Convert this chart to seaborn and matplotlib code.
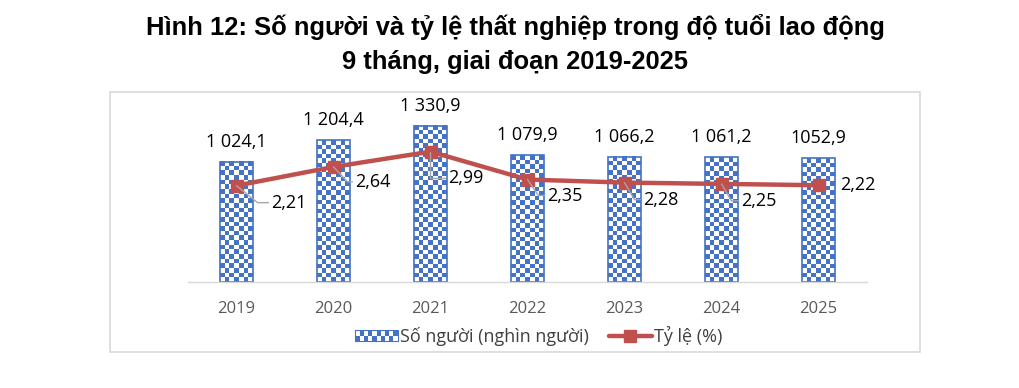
import numpy as np
import pandas as pd
import matplotlib
matplotlib.use("Agg")
import matplotlib.pyplot as plt
from matplotlib.colors import ListedColormap
from matplotlib.patches import Rectangle
from matplotlib.lines import Line2D
from matplotlib.legend_handler import HandlerBase
import seaborn as sns

# ---- data ----
years = ["2019", "2020", "2021", "2022", "2023", "2024", "2025"]
persons = [1024.1, 1204.4, 1330.9, 1079.9, 1066.2, 1061.2, 1052.9]
person_labels = ["1 024,1", "1 204,4", "1 330,9", "1 079,9", "1 066,2", "1 061,2", "1052,9"]
rates = [2.21, 2.64, 2.99, 2.35, 2.28, 2.25, 2.22]
rate_labels = ["2,21", "2,64", "2,99", "2,35", "2,28", "2,25", "2,22"]
title_lines = ["Hình 12: Số người và tỷ lệ thất nghiệp trong độ tuổi lao động",
               "9 tháng, giai đoạn 2019-2025"]
legend_labels = ["Số người (nghìn người)", "Tỷ lệ (%)"]

# label layout (pixels): label left-edge offset, label vertical offset (down), leader corner dx
rate_label_dx = [35, 22, 18, 20, 19, 20, 22]
rate_label_dy = [17, 15, 26, 16, 17, 17, 0]
leader_corner = [21, 14, 0, 11, 10, 10, None]

BLUE = "#4472C4"
RED = "#C0504D"
FONT = ["Open Sans", "DejaVu Sans"]
TFONT = ["Liberation Sans", "DejaVu Sans"]

sns.set_theme(style="white")
plt.rcParams["font.family"] = FONT

W, H = 1020, 388
fig = plt.figure(figsize=(W / 100, H / 100), dpi=100)

# chart border
fig.patches.append(Rectangle((110 / W, 1 - 352 / H), 810 / W, 260 / H,
                             transform=fig.transFigure, fill=False,
                             edgecolor="#D9D9D9", linewidth=1.2))

left, right, bottom, top = 188, 867, 282, 94
ax = fig.add_axes([left / W, 1 - bottom / H, (right - left) / W, (bottom - top) / H])

df = pd.DataFrame({"year": years, "persons": persons, "rate": rates})
sns.barplot(data=df, x="year", y="persons", ax=ax, width=0.33,
            color=BLUE, saturation=1, zorder=2)
ax.set_xlim(-0.5, 6.5)
ax.set_ylim(0, 1600)

checker_cmap = ListedColormap(["white", BLUE])
cell = 4.6
for patch in ax.patches:
    x0, y0 = patch.get_x(), patch.get_y()
    w, h = patch.get_width(), patch.get_height()
    p0 = ax.transData.transform((x0, y0))
    p1 = ax.transData.transform((x0 + w, y0 + h))
    nx = max(1, int(round(abs(p1[0] - p0[0]) / cell)))
    ny = max(1, int(round(abs(p1[1] - p0[1]) / cell)))
    yy, xx = np.indices((ny, nx))
    img = ((xx + yy) % 2).astype(float)
    ax.imshow(img, extent=(x0, x0 + w, y0, y0 + h), origin="lower",
              cmap=checker_cmap, vmin=0, vmax=1, aspect="auto",
              interpolation="nearest", zorder=2.1)
    patch.set_facecolor("none")
    patch.set_edgecolor(BLUE)
    patch.set_linewidth(1.2)
    patch.set_zorder(2.2)

ax.set_xlim(-0.5, 6.5)
ax.set_ylim(0, 1600)

for i, (v, lab) in enumerate(zip(persons, person_labels)):
    ax.annotate(lab, (i, v), xytext=(0, 8), textcoords="offset points",
                ha="center", va="bottom", fontsize=13, color="black")

ax2 = ax.twinx()
ax2.plot(range(len(years)), rates, color=RED, linewidth=3.2, marker="s",
         markersize=8, zorder=5)
ax2.set_ylim(0, (bottom - top) / 43.6)
ax2.set_xlim(-0.5, 6.5)

for i, (v, lab) in enumerate(zip(rates, rate_labels)):
    dx, dy, cx = rate_label_dx[i], rate_label_dy[i], leader_corner[i]
    px, py = ax2.transData.transform((i, v))
    ax2.text(px + dx, py - dy, lab, transform=None, ha="left", va="center",
             fontsize=13, color="black", zorder=6)
    if cx is not None:
        xs = [px, px + cx, px + dx - 3]
        ys = [py, py - dy, py - dy]
        fig.add_artist(Line2D(xs, ys, transform=None, color="#A6A6A6",
                              linewidth=1, zorder=1))

for a in (ax, ax2):
    a.set_yticks([])
    a.set_ylabel("")
    a.set_xlabel("")
    for s in a.spines.values():
        s.set_visible(False)
ax.spines["bottom"].set_visible(True)
ax.spines["bottom"].set_color("#D9D9D9")
ax.spines["bottom"].set_linewidth(1)
ax.tick_params(axis="x", length=0, labelsize=12, labelcolor="#595959", pad=14)
ax2.tick_params(axis="x", length=0)

# legend
class HandlerChecker(HandlerBase):
    def create_artists(self, legend, orig_handle, xdescent, ydescent,
                       width, height, fontsize, trans):
        arts = []
        ncol, nrow = 10, 2
        cw, ch = width / ncol, height / nrow
        arts.append(Rectangle((-xdescent, -ydescent), width, height,
                              facecolor="white", edgecolor=BLUE, lw=0.8,
                              transform=trans))
        for r in range(nrow):
            for c in range(ncol):
                if (r + c) % 2 == 0:
                    arts.append(Rectangle((-xdescent + c * cw, -ydescent + r * ch),
                                          cw, ch, facecolor=BLUE, edgecolor="none",
                                          transform=trans))
        return arts

bar_handle = Rectangle((0, 0), 1, 1)
line_handle = Line2D([0], [0], color=RED, linewidth=3.2, marker="s", markersize=8)
fig.legend([bar_handle, line_handle], legend_labels,
           handler_map={Rectangle: HandlerChecker()},
           loc="center", bbox_to_anchor=(539 / W, 1 - 336 / H), ncol=2,
           frameon=False, fontsize=13, labelcolor="#404040",
           handlelength=2.35, handleheight=0.5, handletextpad=0.15,
           columnspacing=1.1)

fig.text(515 / W, 1 - 27 / H, title_lines[0], ha="center", va="center",
         fontsize=18.4, fontweight="bold", color="black", family=TFONT)
fig.text(515 / W, 1 - 62 / H, title_lines[1], ha="center", va="center",
         fontsize=18.4, fontweight="bold", color="black", family=TFONT)

fig.savefig("out.png", dpi=100)
